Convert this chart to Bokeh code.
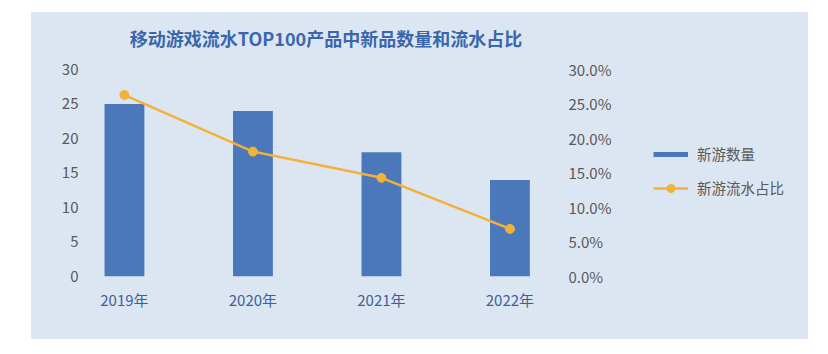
from bokeh.plotting import figure
from bokeh.layouts import row
from bokeh.models import (Range1d, LinearAxis, FixedTicker, NumeralTickFormatter,
                          Legend, LegendItem, ColumnDataSource, Label)
from bokeh.embed import file_html
from bokeh.resources import INLINE

# ---- data ----
years = ["2019年", "2020年", "2021年", "2022年"]
new_games = [25, 24, 18, 14]
revenue_share = [0.263, 0.181, 0.143, 0.069]
left_ticks = [0, 5, 10, 15, 20, 25, 30]
right_ticks = [0.0, 0.05, 0.10, 0.15, 0.20, 0.25, 0.30]
title_text = "移动游戏流水TOP100产品中新品数量和流水占比"
bar_label = "新游数量"
line_label = "新游流水占比"

PANEL = "#dce6f2"
BAR = "#4a78ba"
LINE = "#f2b13a"
GRAY = "#595959"
BLUE_TXT = "#3f5f9c"
TITLE = "#3a66ad"
FONT = "Noto Sans CJK SC"

Y_TOP = 36.23  # headroom above the last tick holds the title

idx = list(range(len(years)))
src = ColumnDataSource(dict(x=idx, n=new_games, s=revenue_share))

p = figure(width=599, height=327, output_backend="svg", toolbar_location=None,
           x_range=Range1d(-0.311, 3.409), y_range=Range1d(0, Y_TOP),
           min_border_left=53, min_border_right=68, min_border_top=14,
           min_border_bottom=63)
p.background_fill_color = PANEL
p.border_fill_color = PANEL
p.outline_line_color = None
p.xgrid.grid_line_color = None
p.ygrid.grid_line_color = None
p.styles = {"background-color": PANEL}

p.extra_y_ranges = {"pct": Range1d(0, Y_TOP / 100)}

bars = p.vbar(x="x", top="n", width=0.31, source=src, fill_color=BAR, line_color=None)
ln = p.line(x="x", y="s", source=src, y_range_name="pct", line_color=LINE, line_width=2.5)
pts = p.scatter(x="x", y="s", source=src, y_range_name="pct", size=9,
                fill_color=LINE, line_color=LINE)

# title
p.add_layout(Label(x=1.568, y=34.5, text=title_text, text_font=FONT,
                   text_font_size="18px", text_font_style="bold",
                   text_color=TITLE, text_align="center", text_baseline="middle"))

# axes styling
for ax in [p.xaxis[0], p.yaxis[0]]:
    ax.axis_line_color = None
    ax.major_tick_line_color = None
    ax.minor_tick_line_color = None
    ax.major_tick_out = 0
    ax.major_label_text_font = FONT
    ax.major_label_text_font_size = "15px"

p.xaxis[0].ticker = FixedTicker(ticks=idx)
p.xaxis[0].major_label_overrides = {i: y for i, y in zip(idx, years)}
p.xaxis[0].major_label_text_color = BLUE_TXT
p.xaxis[0].major_label_standoff = 12

p.yaxis[0].ticker = FixedTicker(ticks=left_ticks)
p.yaxis[0].major_label_text_color = GRAY
p.yaxis[0].major_label_standoff = 6

rax = LinearAxis(y_range_name="pct", ticker=FixedTicker(ticks=right_ticks),
                 formatter=NumeralTickFormatter(format="0.0%"))
rax.axis_line_color = None
rax.major_tick_line_color = None
rax.minor_tick_line_color = None
rax.major_tick_out = 0
rax.major_label_standoff = 6
rax.major_label_text_font = FONT
rax.major_label_text_font_size = "15px"
rax.major_label_text_color = GRAY
p.add_layout(rax, "right")

# ---- legend panel (separate figure, same background) ----
leg = figure(width=178, height=327, output_backend="svg", toolbar_location=None,
             x_range=Range1d(0, 1), y_range=Range1d(0, 1),
             x_axis_location=None, y_axis_location=None,
             min_border=0)
leg.background_fill_color = PANEL
leg.border_fill_color = PANEL
leg.outline_line_color = None
leg.xgrid.grid_line_color = None
leg.ygrid.grid_line_color = None
leg.styles = {"background-color": PANEL}

# legend swatches (kept outside the visible range)
d_bar = leg.line(x=[-5, -4], y=[-5, -5], line_color=BAR, line_width=5, line_cap="butt")
d_line = leg.line(x=[-5, -4], y=[-5, -5], line_color=LINE, line_width=2.5)
d_pt = leg.scatter(x=[-5], y=[-5], size=6, fill_color=LINE, line_color=LINE)

legend = Legend(items=[LegendItem(label=bar_label, renderers=[d_bar]),
                       LegendItem(label=line_label, renderers=[d_line, d_pt])],
                location=(23, 78), glyph_width=35, glyph_height=20,
                label_standoff=9, spacing=13, padding=0, margin=0,
                border_line_color=None, background_fill_alpha=0,
                label_text_font=FONT, label_text_font_size="14.5px",
                label_text_color=GRAY)
leg.add_layout(legend, "center")

layout = row(p, leg)
layout.margin = (12, 0, 0, 31)
layout.styles = {"background-color": PANEL}

open("out.html", "w").write(file_html(layout, INLINE))
